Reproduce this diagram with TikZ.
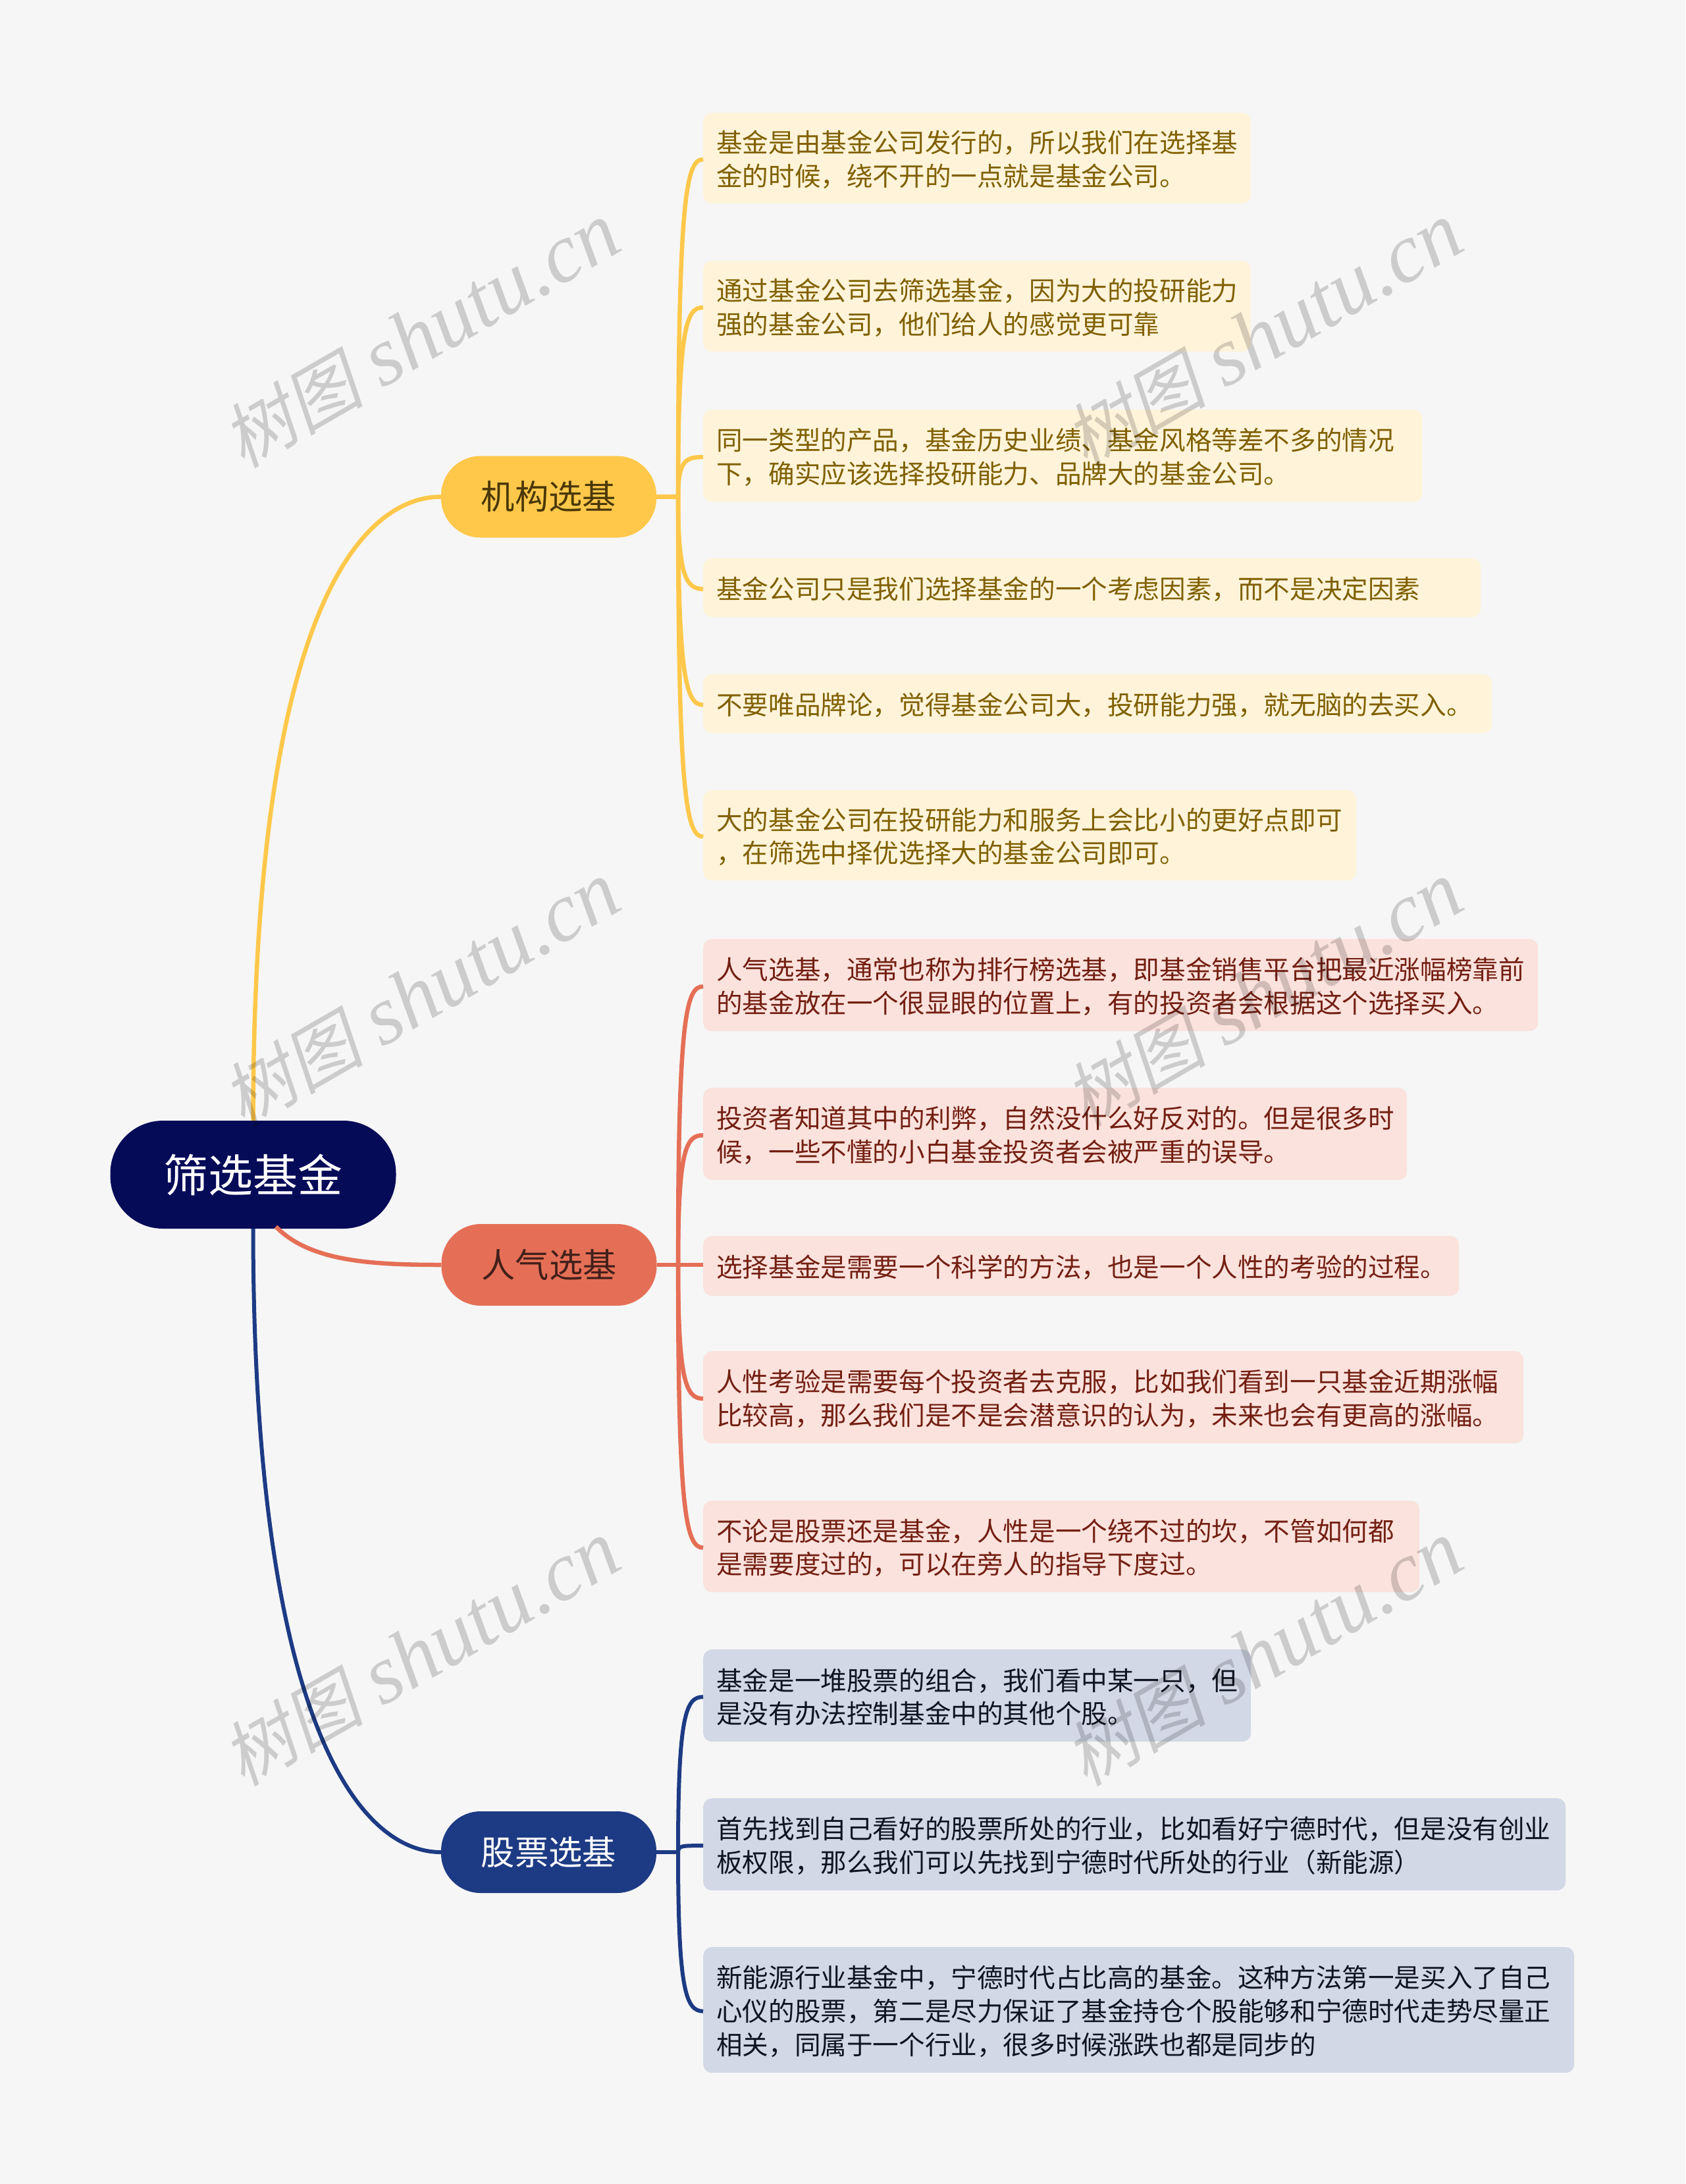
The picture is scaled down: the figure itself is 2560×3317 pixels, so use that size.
\documentclass[tikz,border=0pt]{standalone}
\usepackage{fontspec}
\setmainfont{Noto Sans CJK SC}
\newfontfamily\wmcjk[FakeSlant=0.2]{Noto Sans CJK SC}
\newfontfamily\wmlatin{Liberation Serif}
\definecolor{bgc}{HTML}{F6F6F6}
\definecolor{ylw}{HTML}{FFC84A}
\definecolor{ylwfill}{HTML}{FFF4DA}
\definecolor{ylwtext}{HTML}{806000}
\definecolor{ylwdark}{HTML}{4A3808}
\definecolor{redc}{HTML}{E56F56}
\definecolor{redfill}{HTML}{FBE2DD}
\definecolor{redtext}{HTML}{731F12}
\definecolor{reddark}{HTML}{42201A}
\definecolor{bluec}{HTML}{1D3B84}
\definecolor{bluefill}{HTML}{D2D8E6}
\definecolor{bluetext}{HTML}{0E1420}
\definecolor{navy}{HTML}{060B58}
\tikzset{
  leaf/.style={anchor=north west,yshift=-2pt,rounded corners=13pt,inner xsep=20pt,inner ysep=0pt,align=left,
    font=\fontsize{39.6}{50.7}\selectfont},
  yleaf/.style={leaf,preaction={fill=ylwfill,transform canvas={yshift=2pt}},text=ylwtext},
  rleaf/.style={leaf,preaction={fill=redfill,transform canvas={yshift=2pt}},text=redtext},
  bleaf/.style={leaf,preaction={fill=bluefill,transform canvas={yshift=2pt}},text=bluetext},
  branch/.style={anchor=center,rounded corners=60pt,minimum width=327pt,minimum height=124pt,inner sep=0pt,
    font=\fontsize{51.3}{60}\selectfont},
  rootnode/.style={anchor=center,rounded corners=80pt,minimum width=434pt,minimum height=164pt,inner sep=0pt,
    fill=navy,text=white,font=\fontsize{68}{80}\selectfont},
  yline/.style={draw=ylw,line width=6.5pt},
  rline/.style={draw=redc,line width=6.5pt},
  bline/.style={draw=bluec,line width=6pt},
  wmark/.style={anchor=base west,rotate=30,inner sep=0pt,text=black,text opacity=0.17,
    font=\fontsize{127}{140}\selectfont},
}
\newcommand{\wmtext}{{\fontsize{108}{140}\wmcjk 树图} {\wmlatin\itshape shutu.cn}}
\begin{document}
\begin{tikzpicture}[x=1pt,y=-1pt]
\useasboundingbox (0,0) rectangle (2560,3317);
\fill[bgc] (0,0) rectangle (2560,3317);

\node[rootnode] (main) at (384.5,1784) {筛选基金};
\node[branch,fill=ylw,text=ylwdark] (b1) at (833.5,754.5) {机构选基};
\node[branch,fill=redc,text=reddark] (b2) at (834,1921) {人气选基};
\node[branch,fill=bluec,text=white] (b3) at (833.5,2813) {股票选基};

\node[yleaf,text width=792pt,minimum height=138pt] (y1) at (1068,171) {基金是由基金公司发行的，所以我们在选择基\\金的时候，绕不开的一点就是基金公司。};
\node[yleaf,text width=792pt,minimum height=138pt] (y2) at (1068,396) {通过基金公司去筛选基金，因为大的投研能力\\强的基金公司，他们给人的感觉更可靠};
\node[yleaf,text width=1052pt,minimum height=140pt] (y3) at (1068,622) {同一类型的产品，基金历史业绩、基金风格等差不多的情况\\下，确实应该选择投研能力、品牌大的基金公司。};
\node[yleaf,text width=1141pt,minimum height=89pt] (y4) at (1068,848) {基金公司只是我们选择基金的一个考虑因素，而不是决定因素};
\node[yleaf,text width=1158pt,minimum height=89pt] (y5) at (1068,1024) {不要唯品牌论，觉得基金公司大，投研能力强，就无脑的去买入。};
\node[yleaf,text width=952pt,minimum height=137pt] (y6) at (1068,1200) {大的基金公司在投研能力和服务上会比小的更好点即可\\，在筛选中择优选择大的基金公司即可。};

\node[rleaf,text width=1228pt,minimum height=140pt] (r1) at (1068,1426) {人气选基，通常也称为排行榜选基，即基金销售平台把最近涨幅榜靠前\\的基金放在一个很显眼的位置上，有的投资者会根据这个选择买入。};
\node[rleaf,text width=1029pt,minimum height=140pt] (r2) at (1068,1652) {投资者知道其中的利弊，自然没什么好反对的。但是很多时\\候，一些不懂的小白基金投资者会被严重的误导。};
\node[rleaf,text width=1108pt,minimum height=91pt] (r3) at (1068,1877) {选择基金是需要一个科学的方法，也是一个人性的考验的过程。};
\node[rleaf,text width=1206pt,minimum height=140pt] (r4) at (1068,2052) {人性考验是需要每个投资者去克服，比如我们看到一只基金近期涨幅\\比较高，那么我们是不是会潜意识的认为，未来也会有更高的涨幅。};
\node[rleaf,text width=1048pt,minimum height=139pt] (r5) at (1068,2279) {不论是股票还是基金，人性是一个绕不过的坎，不管如何都\\是需要度过的，可以在旁人的指导下度过。};

\node[bleaf,text width=792pt,minimum height=140pt] (s1) at (1068,2505) {基金是一堆股票的组合，我们看中某一只，但\\是没有办法控制基金中的其他个股。};
\node[bleaf,text width=1270pt,minimum height=140pt] (s2) at (1068,2731) {首先找到自己看好的股票所处的行业，比如看好宁德时代，但是没有创业\\板权限，那么我们可以先找到宁德时代所处的行业（新能源）};
\node[bleaf,text width=1283pt,minimum height=191pt] (s3) at (1068,2957) {新能源行业基金中，宁德时代占比高的基金。这种方法第一是买入了自己\\心仪的股票，第二是尽力保证了基金持仓个股能够和宁德时代走势尽量正\\相关，同属于一个行业，很多时候涨跌也都是同步的};

\coordinate (j1) at (1030,754.5);
\coordinate (j2) at (1030,1921);
\coordinate (j3) at (1030,2813);
\coordinate (rs) at (419,1863);

\draw[yline] (main.north) .. controls (385,900) and (560,754.5) .. (b1.west);
\draw[rline] (rs) .. controls (470,1915) and (560,1921) .. (b2.west);
\draw[bline] (main.south) .. controls (385,2600) and (540,2813) .. (b3.west);

\draw[yline] (b1.east) -- (j1);
\draw[rline] (b2.east) -- (j2);
\draw[bline] (b3.east) -- (j3);

\draw[yline] (j1) .. controls (1030,302) and (1042,242) .. (y1.west);
\draw[yline] (j1) .. controls (1030,499) and (1042,466) .. (y2.west);
\draw[yline] (j1) .. controls (1030,699) and (1042,694) .. (y3.west);
\draw[yline] (j1) .. controls (1030,875) and (1042,894) .. (y4.west);
\draw[yline] (j1) .. controls (1030,1030) and (1042,1070) .. (y5.west);
\draw[yline] (j1) .. controls (1030,1206) and (1042,1270) .. (y6.west);

\draw[rline] (j2) .. controls (1030,1547) and (1042,1498) .. (r1.west);
\draw[rline] (j2) .. controls (1030,1746) and (1042,1724) .. (r2.west);
\draw[rline] (j2) -- (r3.west |- j2);
\draw[rline] (j2) .. controls (1030,2098) and (1042,2124) .. (r4.west);
\draw[rline] (j2) .. controls (1030,2297) and (1042,2350) .. (r5.west);

\draw[bline] (j3) .. controls (1030,2604) and (1042,2577) .. (s1.west);
\draw[bline] (j3) .. controls (1030,2803) and (1036,2803) .. (s2.west);
\draw[bline] (j3) .. controls (1030,3024) and (1042,3054) .. (s3.west);

\node[wmark] (w1) at (369,713) {\wmtext};
\node[wmark] (w2) at (1649,713) {\wmtext};
\node[wmark] (w3) at (369,1714) {\wmtext};
\node[wmark] (w4) at (1649,1714) {\wmtext};
\node[wmark] (w5) at (369,2715) {\wmtext};
\node[wmark] (w6) at (1649,2715) {\wmtext};
\end{tikzpicture}
\end{document}
